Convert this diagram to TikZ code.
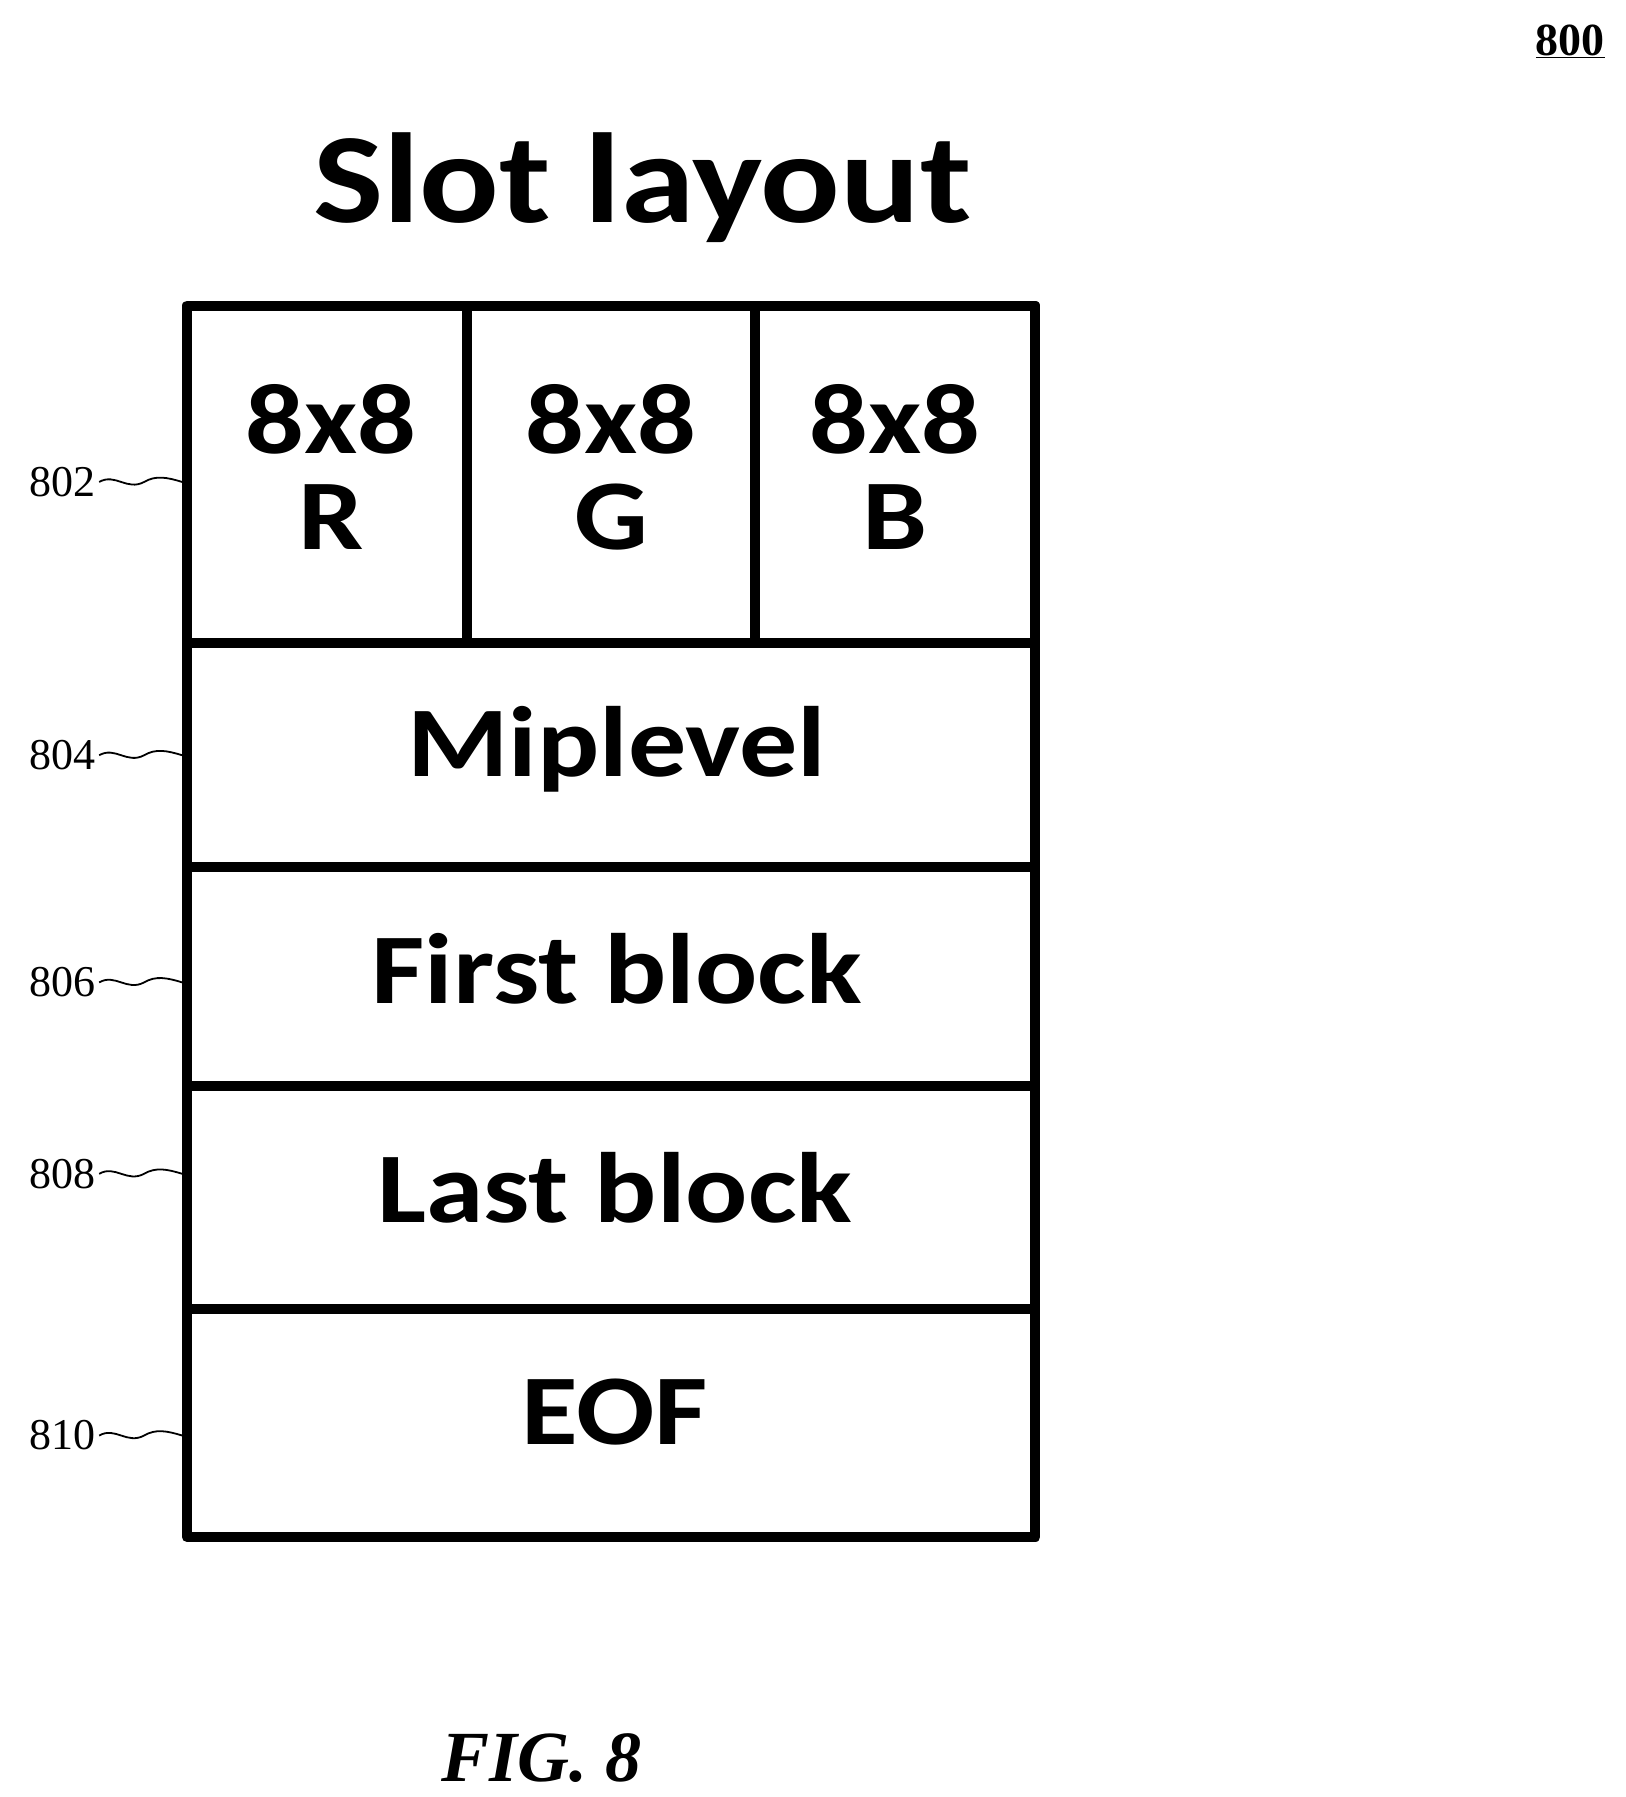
\documentclass[tikz,border=0pt]{standalone}
\usepackage{fontspec}
\setmainfont{Carlito}
\newfontfamily\serif{Liberation Serif}
\begin{document}
\begin{tikzpicture}[x=1.153pt,y=-1.153pt,
  box/.style={line width=10pt},
  big/.style={font=\fontsize{100}{96}\selectfont\bfseries,align=center,xscale=1.16},
  ref/.style={font=\serif\fontsize{44}{44}\selectfont},
  sq/.style={line width=1.8pt}]
\useasboundingbox (0,0) rectangle (1410,1558.5);
\node[font=\serif\fontsize{46}{46}\selectfont\bfseries] (n800) at (1362,36) {\underline{800}};
\node[font=\fontsize{128}{128}\selectfont\bfseries,xscale=1.16] (title) at (557,163) {Slot layout};
\draw[box,line join=round] (162,265) rectangle (898,1333);
\draw[box] (162,558) -- (898,558) (162,752) -- (898,752) (162,942) -- (898,942) (162,1135) -- (898,1135);
\draw[box] (405,265) -- (405,558) (655,265) -- (655,558);
\node[big] (r) at (287,405) {8x8\\R};
\node[big] (g) at (530,405) {8x8\\G};
\node[big] (b) at (776,405) {8x8\\B};
\node[big] (mip) at (535,650) {Miplevel};
\node[big] (first) at (535,840) {First block};
\node[big] (last) at (533,1030) {Last block};
\node[big] (eof) at (533,1225) {EOF};
\foreach \t/\yy in {802/418,804/655,806/852,808/1018,810/1245}{
  \node[ref,anchor=east] (l\t) at (86,\yy) {\t};
  \draw[sq] (l\t.east) .. controls (100,\yy-8) and (110,\yy+8) .. (125,\yy) .. controls (135,\yy-6) and (145,\yy-4) .. (158,\yy);
}
\node[font=\serif\fontsize{72}{72}\selectfont\bfseries\itshape] (fig) at (470,1525) {FIG. 8};
\end{tikzpicture}
\end{document}
